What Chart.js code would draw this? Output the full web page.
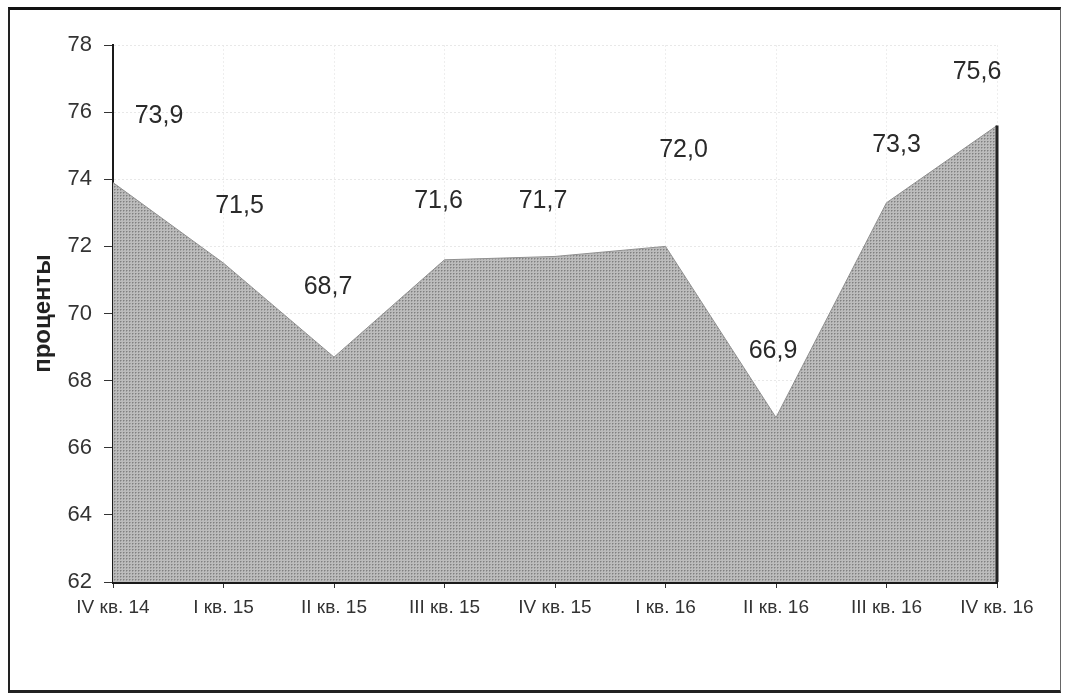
<!DOCTYPE html>
<html lang="ru">
<head>
<meta charset="UTF-8">
<title>Доля, проценты</title>
<script src="https://cdn.jsdelivr.net/npm/chart.js"></script>
<style>
  html, body { margin: 0; padding: 0; background: #fff; }
  .wrap { position: relative; width: 1067px; height: 695px; }
  .frame {
    position: absolute; left: 8px; top: 7px; width: 1050px; height: 680px;
    border-top: 3px solid #111; border-left: 2px solid #222;
    border-right: 1px solid #666; border-bottom: 3px solid #222;
    pointer-events: none;
  }
  canvas { position: absolute; left: 0; top: 0; }
</style>
</head>
<body>
<div class="wrap">
  <canvas id="chart"></canvas>
  <div class="frame"></div>
</div>
<script>
  // кварталы и значения
  const quarters = ['IV кв. 14', 'I кв. 15', 'II кв. 15', 'III кв. 15', 'IV кв. 15',
                    'I кв. 16', 'II кв. 16', 'III кв. 16', 'IV кв. 16'];
  const values = [73.9, 71.5, 68.7, 71.6, 71.7, 72.0, 66.9, 73.3, 75.6];
  const yTicks = [62, 64, 66, 68, 70, 72, 74, 76, 78];

  // сдвиг подписей относительно точки, px
  const labelShift = [[46, -66], [16, -57], [-6, -70], [-6, -59], [-12, -55],
                      [18, -96], [-3, -66], [10, -58], [-20, -53]];

  const FONT = '"Liberation Sans", Arial, sans-serif';

  // растровая заливка "под печать"
  function dotPattern() {
    const c = document.createElement('canvas');
    c.width = 3; c.height = 3;
    const g = c.getContext('2d');
    g.fillStyle = '#bcbcbc'; g.fillRect(0, 0, 3, 3);
    g.fillStyle = '#808080'; g.fillRect(0, 0, 1, 1);
    g.fillStyle = '#9e9e9e'; g.fillRect(1, 0, 1, 1); g.fillRect(0, 1, 1, 1);
    return g.createPattern(c, 'repeat');
  }

  const valueLabels = {
    id: 'valueLabels',
    afterDatasetsDraw(chart) {
      const ctx = chart.ctx;
      const meta = chart.getDatasetMeta(0);
      const area = chart.chartArea;

      // правый край области
      const last = meta.data[meta.data.length - 1];
      ctx.save();
      ctx.strokeStyle = '#222';
      ctx.lineWidth = 3;
      ctx.beginPath();
      ctx.moveTo(last.x, last.y);
      ctx.lineTo(last.x, area.bottom);
      ctx.stroke();

      ctx.font = '25px ' + FONT;
      ctx.fillStyle = '#2a2a2a';
      ctx.textAlign = 'center';
      ctx.textBaseline = 'middle';
      meta.data.forEach((pt, i) => {
        const txt = values[i].toFixed(1).replace('.', ',');
        ctx.fillText(txt, pt.x + labelShift[i][0], pt.y + labelShift[i][1]);
      });
      ctx.restore();
    }
  };

  new Chart(document.getElementById('chart'), {
    type: 'line',
    data: {
      labels: quarters,
      datasets: [{
        data: values,
        fill: 'start',
        backgroundColor: dotPattern(),
        borderColor: '#909090',
        borderWidth: 1,
        pointRadius: 0,
        tension: 0
      }]
    },
    options: {
      responsive: true,
      maintainAspectRatio: false,
      animation: false,
      events: [],
      layout: { padding: { left: 0, right: 70, top: 45, bottom: 0 } },
      plugins: {
        legend: { display: false },
        tooltip: { enabled: false }
      },
      scales: {
        x: {
          offset: false,
          afterFit: s => { s.height = 113; },
          grid: {
            color: '#eeeeee',
            tickColor: '#333',
            tickLength: 6
          },
          border: { display: true, color: '#1a1a1a', width: 3, dash: [2, 2] },
          ticks: {
            color: '#333',
            font: { family: FONT, size: 19 },
            padding: 8,
            maxRotation: 0,
            autoSkip: false
          }
        },
        y: {
          min: 62,
          max: 78,
          afterFit: s => { s.width = 113; },
          afterBuildTicks: s => { s.ticks = yTicks.map(v => ({ value: v })); },
          grid: {
            color: '#e8e8e8',
            tickColor: '#333',
            tickLength: 9
          },
          border: { display: true, color: '#1a1a1a', width: 2, dash: [2, 2] },
          ticks: {
            color: '#333',
            font: { family: FONT, size: 22 },
            padding: 12
          },
          title: {
            display: true,
            text: 'проценты',
            color: '#222',
            font: { family: FONT, size: 24, weight: 'bold' },
            padding: { top: 29, bottom: 0 }
          }
        }
      }
    },
    plugins: [valueLabels]
  });
</script>
</body>
</html>
